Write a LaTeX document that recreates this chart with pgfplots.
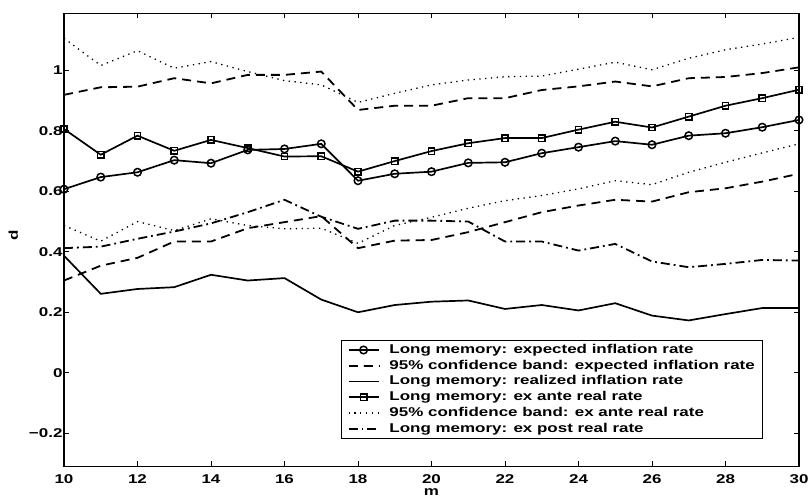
\documentclass[border=0pt]{standalone}
\usepackage{pgfplots}
\usepackage{pgfplotstable}
\pgfplotsset{compat=1.18}
\usepackage{fontspec}
\setmainfont{Liberation Sans}[FakeStretch=1.33]
\pgfplotstableread{
m  ei    eiU   eiL   ri    ea    eaU   eaL   ep
10 0.607 0.919 0.305 0.387 0.806 1.106 0.487 0.412
11 0.647 0.944 0.354 0.261 0.721 1.016 0.435 0.417
12 0.663 0.946 0.380 0.277 0.784 1.065 0.500 0.443
13 0.703 0.974 0.434 0.283 0.734 1.007 0.470 0.467
14 0.693 0.957 0.434 0.324 0.770 1.029 0.509 0.494
15 0.737 0.985 0.478 0.305 0.743 0.996 0.487 0.531
16 0.740 0.985 0.498 0.313 0.715 0.966 0.476 0.572
17 0.757 0.996 0.518 0.242 0.716 0.952 0.478 0.516
18 0.635 0.869 0.412 0.200 0.665 0.894 0.428 0.476
19 0.658 0.883 0.437 0.224 0.700 0.924 0.487 0.503
20 0.665 0.883 0.439 0.235 0.733 0.952 0.514 0.503
21 0.694 0.908 0.465 0.239 0.759 0.968 0.544 0.500
22 0.696 0.908 0.498 0.211 0.776 0.979 0.569 0.434
23 0.726 0.935 0.531 0.224 0.776 0.981 0.586 0.434
24 0.746 0.947 0.553 0.206 0.804 1.004 0.608 0.404
25 0.766 0.963 0.572 0.230 0.830 1.027 0.635 0.426
26 0.754 0.947 0.566 0.189 0.811 1.002 0.622 0.368
27 0.784 0.974 0.597 0.173 0.847 1.040 0.663 0.349
28 0.792 0.978 0.610 0.194 0.883 1.068 0.696 0.360
29 0.812 0.991 0.632 0.214 0.908 1.087 0.727 0.373
30 0.836 1.010 0.658 0.214 0.936 1.109 0.757 0.371
}\datatable
\begin{document}
\begin{tikzpicture}
\path[use as bounding box] (-64bp,-30.5bp) rectangle (745bp,466.5bp);
\begin{axis}[
  at={(0,0)}, anchor=south west,
  scale only axis, width=735bp, height=453bp,
  xmin=10, xmax=30, ymin=-0.31, ymax=1.188,
  xtick={10,12,...,30},
  ytick={-0.2,0,0.2,0.4,0.6,0.8,1},
  yticklabels={−0.2,0,0.2,0.4,0.6,0.8,1},
  tick align=inside, major tick length=5bp,
  xtick pos=both, ytick pos=both,
  axis line style={line width=1.2pt},
  every tick/.style={black, line width=0.9pt},
  /pgf/number format/assume math mode=true,
  tick label style={font=\fontsize{12.8}{15}\selectfont\bfseries},
  xticklabel style={yshift=-4.5bp},
  yticklabel style={xshift=2bp},
  xlabel={m}, ylabel={d},
  label style={font=\fontsize{12.8}{15}\selectfont\bfseries},
  xlabel style={at={(axis description cs:0.5,0)}, anchor=center, yshift=-26bp},
  ylabel style={at={(axis description cs:-0.069,0.51)}, anchor=center},
  legend image code/.code={\draw[mark repeat=2,mark phase=2,#1] plot coordinates {(0cm,0cm) (0.53cm,0cm) (1.06cm,0cm)};},
  legend style={at={(0.377,0.279)}, anchor=north west, draw=black, line width=1.1pt,
    font=\fontsize{12.8}{15}\selectfont\bfseries, inner xsep=6bp, inner ysep=1.5pt,
    column sep=8bp,
    nodes={inner sep=2pt, text height=9.2pt, text depth=2.6pt}, cells={anchor=west}},
  legend cell align=left,
]
\addplot[black, line width=1.7pt, mark=o, mark size=3.8pt, mark options={solid, fill=white, line width=1.5pt}] table[x=m,y=ei]{\datatable};
\addlegendentry{Long memory: expected inflation rate}
\addplot[black, line width=1.8pt, dash pattern=on 9bp off 6bp] table[x=m,y=eiU]{\datatable};
\addlegendentry{95\% confidence band: expected inflation rate}
\addplot[black, line width=1.7pt] table[x=m,y=ri]{\datatable};
\addlegendentry{Long memory: realized inflation rate}
\addplot[black, line width=1.7pt, mark=square, mark size=3.2pt, mark options={solid, fill=white, line width=1.5pt}] table[x=m,y=ea]{\datatable};
\addlegendentry{Long memory: ex ante real rate}
\addplot[black, line width=1.3pt, dash pattern=on 1.3bp off 4.5bp] table[x=m,y=eaU]{\datatable};
\addlegendentry{95\% confidence band: ex ante real rate}
\addplot[black, line width=1.8pt, dash pattern=on 9bp off 4bp on 1.8bp off 4bp] table[x=m,y=ep]{\datatable};
\addlegendentry{Long memory: ex post real rate}
\addplot[black, line width=1.8pt, dash pattern=on 9bp off 6bp, forget plot] table[x=m,y=eiL]{\datatable};
\addplot[black, line width=1.3pt, dash pattern=on 1.3bp off 4.5bp, forget plot] table[x=m,y=eaL]{\datatable};
\end{axis}
\end{tikzpicture}
\end{document}
